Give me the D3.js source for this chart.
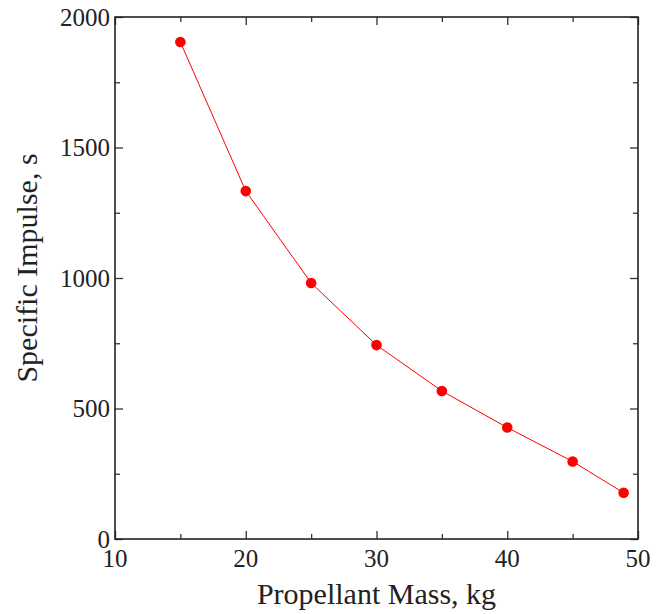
<!DOCTYPE html>
<html>
<head>
<meta charset="utf-8">
<script src="https://cdn.jsdelivr.net/npm/d3@7"></script>
<style>
  body { margin: 0; background: #fff; }
</style>
</head>
<body>
<div id="chart"></div>
<script>
const mass = [15, 20, 25, 30, 35, 40, 45, 48.9];
const impulse = [1904, 1333, 981, 743, 567, 427, 297, 177];
const xTicks = [10, 20, 30, 40, 50];
const yTicks = [0, 500, 1000, 1500, 2000];

const W = 667, H = 614;
const margin = { top: 17, right: 29, bottom: 75, left: 115 };
const width = W - margin.left - margin.right,
    height = H - margin.top - margin.bottom;
const serif = "'Liberation Serif', serif";

const svg = d3.select("#chart").append("svg")
    .attr("width", W)
    .attr("height", H);

const g = svg.append("g")
    .attr("transform", `translate(${margin.left},${margin.top})`);

const x = d3.scaleLinear().domain([10, 50]).range([0, width]);
const y = d3.scaleLinear().domain([0, 2000]).range([height, 0]);

const minorX = d3.range(15, 50, 10);
const minorY = d3.range(250, 2000, 500);

// inward ticks on all four sides
const addTicks = (axis, sel, vals, len) => {
    sel.call(axis.tickValues(vals).tickSize(len).tickFormat(""));
    sel.select(".domain").remove();
    sel.selectAll(".tick line").attr("stroke", "#333").attr("stroke-width", 1.3);
};

addTicks(d3.axisTop(x), g.append("g").attr("transform", `translate(0,${height})`), xTicks, 8);
addTicks(d3.axisTop(x), g.append("g").attr("transform", `translate(0,${height})`), minorX, 5);
addTicks(d3.axisBottom(x), g.append("g"), xTicks, 8);
addTicks(d3.axisBottom(x), g.append("g"), minorX, 5);
addTicks(d3.axisRight(y), g.append("g"), yTicks, 8);
addTicks(d3.axisRight(y), g.append("g"), minorY, 5);
addTicks(d3.axisLeft(y), g.append("g").attr("transform", `translate(${width},0)`), yTicks, 8);
addTicks(d3.axisLeft(y), g.append("g").attr("transform", `translate(${width},0)`), minorY, 5);

g.append("rect")
    .attr("width", width).attr("height", height)
    .attr("fill", "none").attr("stroke", "#222").attr("stroke-width", 1.6);

const lab = (sel, size) => sel
    .attr("font-family", serif)
    .attr("font-size", size)
    .attr("fill", "#222");

// tick labels
lab(g.selectAll(".xlab").data(xTicks).enter().append("text"), 25)
    .attr("x", d => x(d))
    .attr("y", height + 28)
    .attr("text-anchor", "middle")
    .text(d => d);

lab(g.selectAll(".ylab").data(yTicks).enter().append("text"), 25)
    .attr("x", -5)
    .attr("y", d => y(d) + 8.5)
    .attr("text-anchor", "end")
    .text(d => d);

// axis titles
lab(svg.append("text"), 30)
    .attr("x", margin.left + width / 2)
    .attr("y", 604)
    .attr("text-anchor", "middle")
    .text("Propellant Mass, kg");

lab(svg.append("text"), 30)
    .attr("transform", "rotate(-90)")
    .attr("x", -268)
    .attr("y", 37)
    .attr("text-anchor", "middle")
    .text("Specific Impulse, s");

const pts = mass.map((m, i) => [m, impulse[i]]);

g.append("path")
    .datum(pts)
    .attr("fill", "none")
    .attr("stroke", "#ff0000")
    .attr("stroke-width", 1)
    .attr("d", d3.line().x(d => x(d[0])).y(d => y(d[1])));

g.selectAll(".pt").data(pts).enter().append("circle")
    .attr("cx", d => x(d[0]))
    .attr("cy", d => y(d[1]))
    .attr("r", 5.3)
    .attr("fill", "#ff0000");
</script>
</body>
</html>
